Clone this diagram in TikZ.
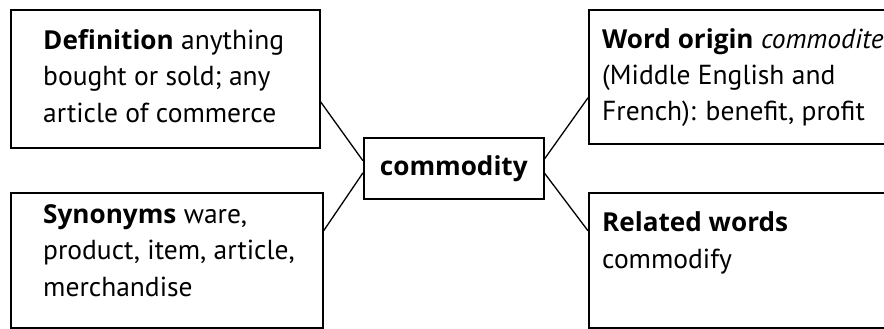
\documentclass[tikz,border=0pt]{standalone}
\usepackage{fontspec}
\setmainfont{PT Sans}[BoldFont={Open Sans Bold}, BoldFeatures={Scale=0.95}]
\begin{document}
\begin{tikzpicture}[x=1pt,y=-1pt,
  box/.style={draw=black, line width=1.6pt, inner sep=0pt, anchor=north west},
  txt/.style={inner sep=0pt, anchor=base west, align=left, font=\fontsize{27.5}{36.3}\selectfont},
  link/.style={draw=black, line width=1.3pt}]
\useasboundingbox (0,0) rectangle (884,329);
% boxes
\node[box, minimum width=309pt, minimum height=138pt] (def) at (10,9) {};
\node[box, minimum width=312pt, minimum height=135pt] (syn) at (10,192) {};
\node[box, minimum width=320pt, minimum height=134pt] (orig) at (588,9) {};
\node[box, minimum width=320pt, minimum height=135pt] (rel) at (588,192) {};
\node[box, minimum width=180pt, minimum height=61pt] (ctr) at (363,137) {};
% texts (anchored at the baseline of their last line)
\node[txt] (deft) at (43,122) {\textbf{Definition} anything\\bought or sold; any\\article of commerce};
\node[txt] (synt) at (43,296) {\textbf{Synonyms} ware,\\product, item, article,\\merchandise};
\node[txt] (origt) at (602,121) {\textbf{Word origin} \textit{commodite}\\(Middle English and\\French): benefit, profit};
\node[txt] (relt) at (602,268) {\textbf{Related words}\\commodify};
\node[font=\fontsize{27.5}{30}\selectfont\bfseries, inner sep=0pt] (ctrt) at (ctr.center) {commodity};
% connectors
\draw[link] ([yshift=-23pt]def.east) -- ([yshift=7.5pt]ctr.west);
\draw[link] ([yshift=29.5pt]syn.east) -- ([yshift=-4.5pt]ctr.west);
\draw[link] ([yshift=-21pt]orig.west) -- ([yshift=9.5pt]ctr.east);
\draw[link] ([yshift=29.5pt]rel.west) -- ([yshift=-5pt]ctr.east);
\end{tikzpicture}
\end{document}
